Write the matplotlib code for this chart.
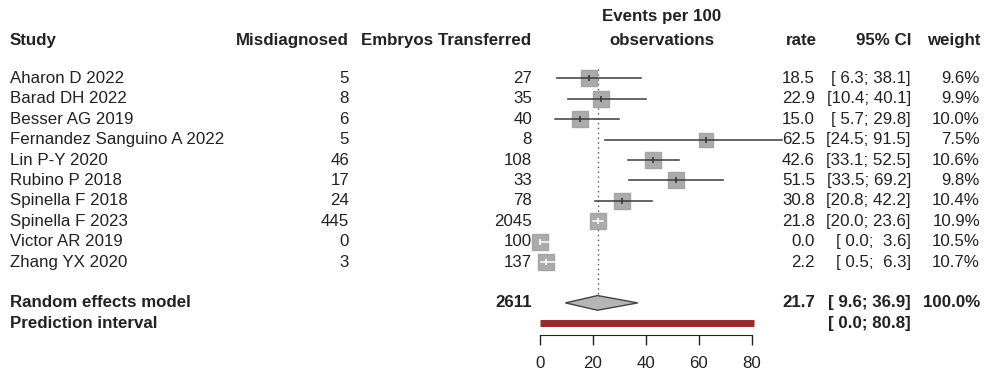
import matplotlib.pyplot as plt
from matplotlib import transforms
import numpy as np

plt.rcParams["font.family"] = ["Liberation Sans", "DejaVu Sans"]
plt.rcParams["font.size"] = 12.2

# study-level data
studies = ["Aharon D 2022", "Barad DH 2022", "Besser AG 2019",
           "Fernandez Sanguino A 2022", "Lin P-Y 2020", "Rubino P 2018",
           "Spinella F 2018", "Spinella F 2023", "Victor AR 2019", "Zhang YX 2020"]
misdiagnosed = [5, 8, 6, 5, 46, 17, 24, 445, 0, 3]
transferred = [27, 35, 40, 8, 108, 33, 78, 2045, 100, 137]
rate = [18.5, 22.9, 15.0, 62.5, 42.6, 51.5, 30.8, 21.8, 0.0, 2.2]
ci_low = [6.3, 10.4, 5.7, 24.5, 33.1, 33.5, 20.8, 20.0, 0.0, 0.5]
ci_high = [38.1, 40.1, 29.8, 91.5, 52.5, 69.2, 42.2, 23.6, 3.6, 6.3]
weight = [9.6, 9.9, 10.0, 7.5, 10.6, 9.8, 10.4, 10.9, 10.5, 10.7]

# pooled estimate
total_transferred = 2611
pooled_rate = 21.7
pooled_ci = [9.6, 36.9]
pooled_weight = 100.0
pred_interval = [0.0, 80.8]

xticks = [0, 20, 40, 60, 80]

W, H = 986, 374
fig = plt.figure(figsize=(W / 100, H / 100), dpi=100)
fig.patch.set_facecolor("white")

# forest panel spans the 0..80 scale
ax = fig.add_axes([540 / W, 1 - 335 / H, 212 / W, 335 / H])
ax.set_xlim(0, 80)
step = 20.4
ax.set_ylim(1 + (335 - 78.5) / step, 1 - 78.5 / step)
for s in ["top", "right", "left"]:
    ax.spines[s].set_visible(False)
ax.spines["bottom"].set_color("#222222")
ax.set_yticks([])
ax.set_xticks(xticks)
ax.tick_params(axis="x", length=7, width=1, color="#222222", pad=8, labelcolor="#222222")
ax.patch.set_alpha(0)

txt = transforms.blended_transform_factory(fig.transFigure, ax.transData)
ink = "#222222"

def put(xpx, row, s, ha="left", bold=False):
    ax.text(xpx / W, row, s, transform=txt, ha=ha, va="center", color=ink,
            fontweight="bold" if bold else "normal", clip_on=False)

# headers
hdr = 1 + (40.5 - 78.5) / step
put(10, hdr, "Study", bold=True)
put(349, hdr, "Misdiagnosed", ha="right", bold=True)
put(531, hdr, "Embryos Transferred", ha="right", bold=True)
put(662, hdr - 1.2, "Events per 100", ha="center", bold=True)
put(662, hdr, "observations", ha="center", bold=True)
put(817, hdr, "rate", ha="right", bold=True)
put(911, hdr, "95% CI", ha="right", bold=True)
put(980, hdr, "weight", ha="right", bold=True)

rows = np.arange(1, len(studies) + 1)
max_w = max(weight)
for r, name, m, n, est, lo, hi, w in zip(rows, studies, misdiagnosed, transferred,
                                         rate, ci_low, ci_high, weight):
    put(10, r, name)
    put(349, r, str(m), ha="right")
    put(532, r, str(n), ha="right")
    put(815, r, f"{est:.1f}", ha="right")
    put(911, r, f"[{lo:4.1f}; {hi:4.1f}]", ha="right")
    put(980, r, f"{w:.1f}%", ha="right")

    side = 11.6 * np.sqrt(w / max_w)
    ax.plot([est], [r], marker="s", ms=side, color="#ababab", mec="#a5a5a5",
            zorder=2, clip_on=False)
    # CI narrower than the box is drawn in white
    inside = (hi - lo) * 212 / 80 < side * 100 / 72
    lc = "white" if inside else "#3a3a3a"
    ax.plot([lo, hi], [r, r], color=lc, lw=1.1, zorder=3, clip_on=False)
    ax.plot([est], [r], marker="|", ms=4, mew=1.2, color=lc, zorder=4, clip_on=False)

# pooled rows
re_row, pi_row = 12, 13
put(10, re_row, "Random effects model", bold=True)
put(10, pi_row, "Prediction interval", bold=True)
put(532, re_row, str(total_transferred), ha="right", bold=True)
put(815, re_row, f"{pooled_rate:.1f}", ha="right", bold=True)
put(911, re_row, f"[{pooled_ci[0]:4.1f}; {pooled_ci[1]:4.1f}]", ha="right", bold=True)
put(980, re_row, f"{pooled_weight:.1f}%", ha="right", bold=True)
put(911, pi_row, f"[{pred_interval[0]:4.1f}; {pred_interval[1]:4.1f}]", ha="right", bold=True)

half = 0.36
ax.plot([pooled_rate, pooled_rate], [0.55, re_row - half], ls=(0, (1, 2.5)),
        color="#555555", lw=1, zorder=1)
ax.fill([pooled_ci[0], pooled_rate, pooled_ci[1], pooled_rate],
        [re_row, re_row - half, re_row, re_row + half],
        facecolor="#b5b5b5", edgecolor="#444444", lw=1, zorder=2)
ax.plot(pred_interval, [pi_row, pi_row], color="#9b2a2c", lw=5, solid_capstyle="butt",
        zorder=2, clip_on=False)

fig.savefig("out.png", dpi=100)
